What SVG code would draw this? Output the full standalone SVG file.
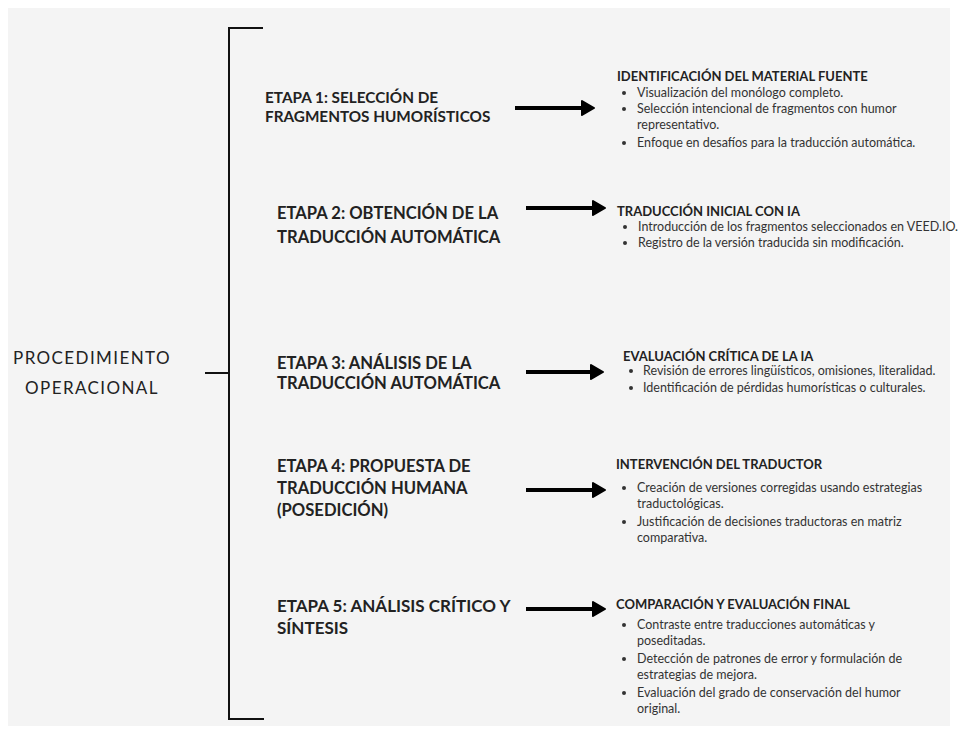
<svg xmlns="http://www.w3.org/2000/svg" width="958" height="734" viewBox="0 0 958 734">
<defs>
<style>
.bg{fill:#f4f4f4}
.br{fill:none;stroke:#111;stroke-width:2}
.ar{fill:none;stroke:#000;stroke-width:4}
.hd{fill:#000;stroke:#000;stroke-width:2;stroke-linejoin:round}
.root{font-family:Lato,"Open Sans",sans-serif;font-size:17px;letter-spacing:1.4px;fill:#222}
.st{font-family:Lato,"Open Sans",sans-serif;font-weight:bold;font-size:16.6px;fill:#222}
.h{font-family:Lato,"Open Sans",sans-serif;font-weight:bold;font-size:13px;fill:#222}
.b{font-family:Lato,"Open Sans",sans-serif;font-size:12.5px;fill:#333}
.dot{fill:#333}
</style>
</defs>
<rect class="bg" x="8" y="8" width="942" height="718"/>
<g id="root">
<text class="root" x="92" y="364" text-anchor="middle">PROCEDIMIENTO</text>
<text class="root" x="92" y="394" text-anchor="middle">OPERACIONAL</text>
</g>
<g id="connectors">
<path class="br" d="M263 28 H229 V719 H264 M205 373 H229"/>
<path class="ar" d="M515 108 H582"/><polygon class="hd" points="582,101 594,108 582,115"/>
<path class="ar" d="M526 208 H593"/><polygon class="hd" points="593,201 605,208 593,215"/>
<path class="ar" d="M526 372 H591"/><polygon class="hd" points="591,365 603,372 591,379"/>
<path class="ar" d="M526 490 H593"/><polygon class="hd" points="593,483 605,490 593,497"/>
<path class="ar" d="M526 609 H593"/><polygon class="hd" points="593,602 605,609 593,616"/>
</g>
<g id="stage1">
<text class="st" x="265" y="103" style="font-size:15.3px">ETAPA 1: SELECCIÓN DE</text>
<text class="st" x="265" y="122" style="font-size:15.3px">FRAGMENTOS HUMORÍSTICOS</text>
</g>
<g id="stage2">
<text class="st" x="277" y="219">ETAPA 2: OBTENCIÓN DE LA</text>
<text class="st" x="277" y="243">TRADUCCIÓN AUTOMÁTICA</text>
</g>
<g id="stage3">
<text class="st" x="277" y="369">ETAPA 3: ANÁLISIS DE LA</text>
<text class="st" x="277" y="389">TRADUCCIÓN AUTOMÁTICA</text>
</g>
<g id="stage4">
<text class="st" x="277" y="472">ETAPA 4: PROPUESTA DE</text>
<text class="st" x="277" y="494">TRADUCCIÓN HUMANA</text>
<text class="st" x="277" y="516">(POSEDICIÓN)</text>
</g>
<g id="stage5">
<text class="st" x="277" y="612" style="font-size:17px">ETAPA 5: ANÁLISIS CRÍTICO Y</text>
<text class="st" x="277" y="634" style="font-size:17px">SÍNTESIS</text>
</g>
<g id="detail1">
<text class="h" x="617" y="81">IDENTIFICACIÓN DEL MATERIAL FUENTE</text>
<circle class="dot" cx="624" cy="93" r="2"/>
<text class="b" x="637" y="97">Visualización del monólogo completo.</text>
<circle class="dot" cx="624" cy="109" r="2"/>
<text class="b" x="637" y="113">Selección intencional de fragmentos con humor</text>
<text class="b" x="637" y="129">representativo.</text>
<circle class="dot" cx="624" cy="143" r="2"/>
<text class="b" x="637" y="147">Enfoque en desafíos para la traducción automática.</text>
</g>
<g id="detail2">
<text class="h" x="617" y="216">TRADUCCIÓN INICIAL CON IA</text>
<circle class="dot" cx="625" cy="227" r="2"/>
<text class="b" x="638" y="231">Introducción de los fragmentos seleccionados en VEED.IO.</text>
<circle class="dot" cx="625" cy="243" r="2"/>
<text class="b" x="638" y="247">Registro de la versión traducida sin modificación.</text>
</g>
<g id="detail3">
<text class="h" x="623" y="361">EVALUACIÓN CRÍTICA DE LA IA</text>
<circle class="dot" cx="631" cy="371" r="2"/>
<text class="b" x="643" y="375">Revisión de errores lingüísticos, omisiones, literalidad.</text>
<circle class="dot" cx="631" cy="388" r="2"/>
<text class="b" x="643" y="392">Identificación de pérdidas humorísticas o culturales.</text>
</g>
<g id="detail4">
<text class="h" x="616" y="469">INTERVENCIÓN DEL TRADUCTOR</text>
<circle class="dot" cx="624" cy="488" r="2"/>
<text class="b" x="637" y="492">Creación de versiones corregidas usando estrategias</text>
<text class="b" x="637" y="508">traductológicas.</text>
<circle class="dot" cx="624" cy="522" r="2"/>
<text class="b" x="637" y="526">Justificación de decisiones traductoras en matriz</text>
<text class="b" x="637" y="542">comparativa.</text>
</g>
<g id="detail5">
<text class="h" x="616" y="609">COMPARACIÓN Y EVALUACIÓN FINAL</text>
<circle class="dot" cx="624" cy="625" r="2"/>
<text class="b" x="637" y="629">Contraste entre traducciones automáticas y</text>
<text class="b" x="637" y="645">poseditadas.</text>
<circle class="dot" cx="624" cy="659" r="2"/>
<text class="b" x="637" y="663">Detección de patrones de error y formulación de</text>
<text class="b" x="637" y="679">estrategias de mejora.</text>
<circle class="dot" cx="624" cy="693" r="2"/>
<text class="b" x="637" y="697">Evaluación del grado de conservación del humor</text>
<text class="b" x="637" y="713">original.</text>
</g>
</svg>
